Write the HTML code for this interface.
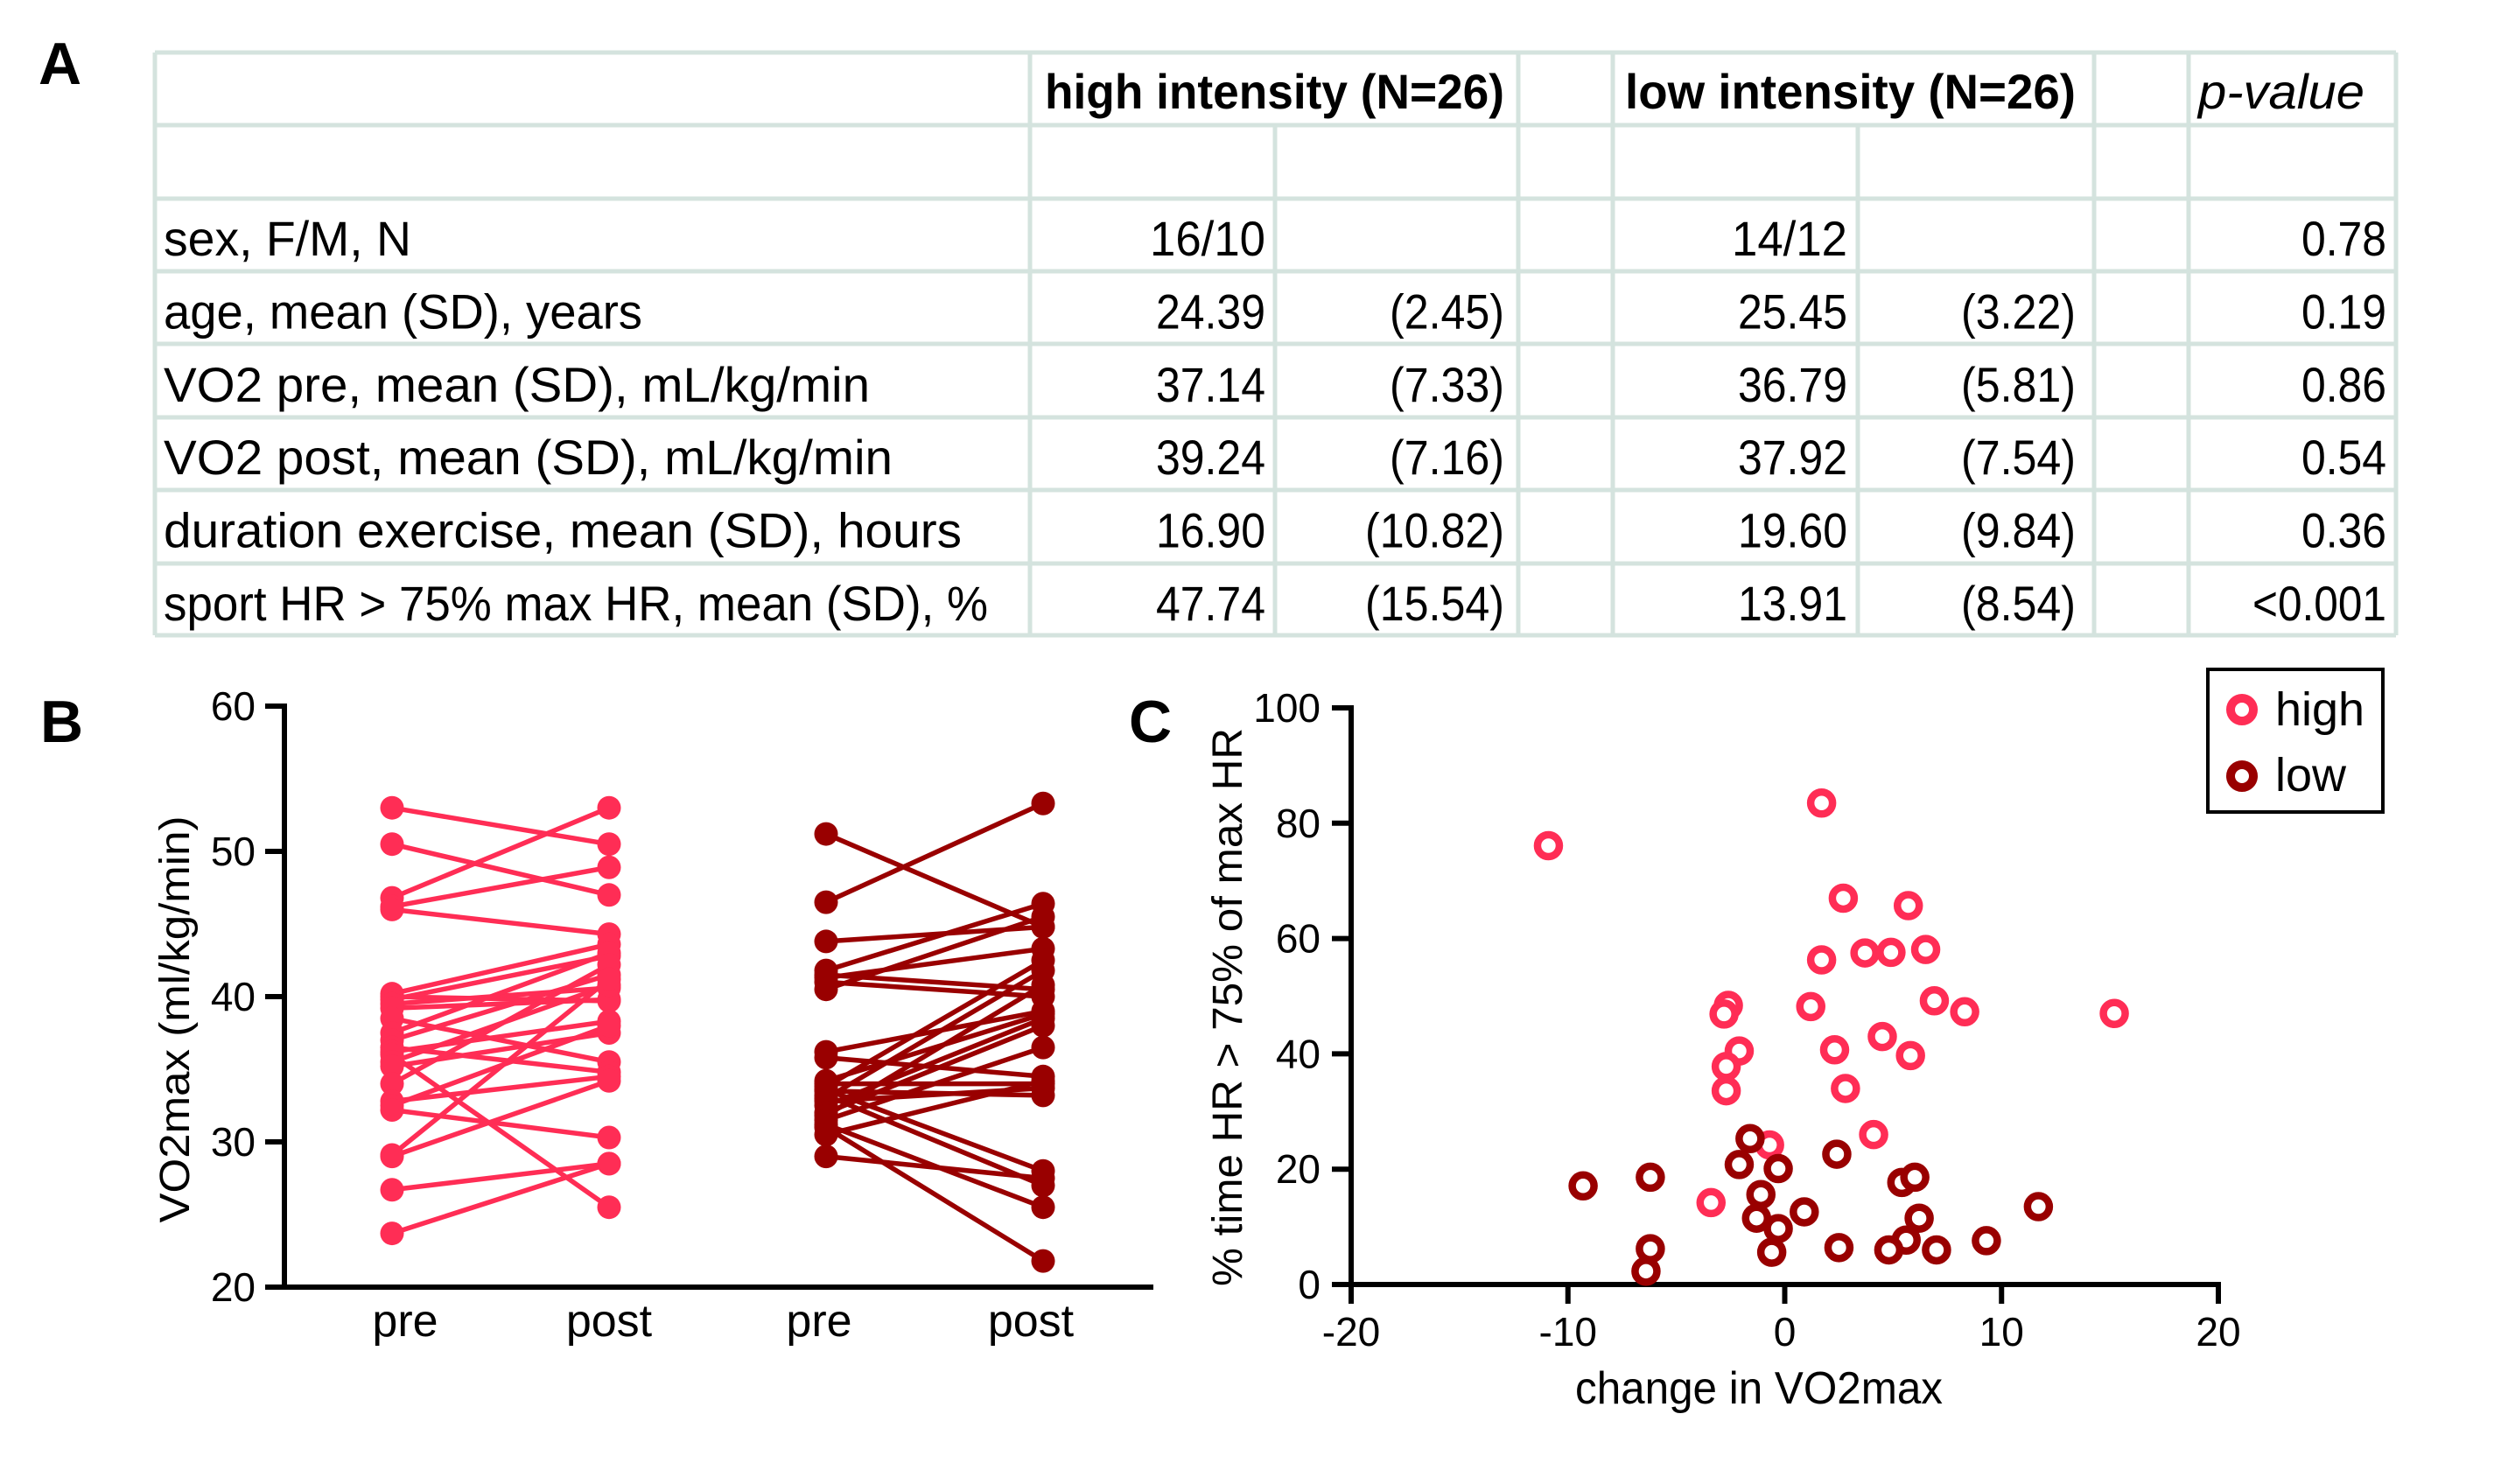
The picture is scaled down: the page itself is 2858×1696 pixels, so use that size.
<!DOCTYPE html>
<html><head><meta charset="utf-8"><style>
html,body{margin:0;padding:0;background:#fff;}
svg{display:block;}
text{font-family:"Liberation Sans Narrow","Liberation Sans",sans-serif;fill:#000;}
.wide{font-family:"Liberation Sans",sans-serif;}
</style></head><body>
<svg id="fig" width="2858" height="1696" viewBox="0 0 2858 1696" xmlns="http://www.w3.org/2000/svg">
<text x="44" y="96" font-size="68" font-weight="bold">A</text>
<text x="46" y="848" font-size="68" font-weight="bold">B</text>
<text x="1290" y="848" font-size="68" font-weight="bold">C</text>
<g id="table"></g>
<g id="chartB"></g>
<g id="chartC"></g>
</svg>
<script>
// ---- Table data ----
const rowLabels = ["sex, F/M, N","age, mean (SD), years","VO2 pre, mean (SD), mL/kg/min","VO2 post, mean (SD), mL/kg/min","duration exercise, mean (SD), hours","sport HR > 75% max HR, mean (SD), %"];
const highVals = ["16/10","24.39","37.14","39.24","16.90","47.74"];
const highSD = ["","(2.45)","(7.33)","(7.16)","(10.82)","(15.54)"];
const lowVals = ["14/12","25.45","36.79","37.92","19.60","13.91"];
const lowSD = ["","(3.22)","(5.81)","(7.54)","(9.84)","(8.54)"];
const pVals = ["0.78","0.19","0.86","0.54","0.36","<0.001"];

// ---- Chart B data ----
const bTicks = [20,30,40,50,60];
const bCategories = ["pre","post","pre","post"];
const highPre  = [53.0,50.5,46.8,46.2,46.0,40.2,40.0,39.8,39.5,39.2,38.5,37.5,37.0,36.5,36.2,36.0,35.5,35.2,34.0,32.8,32.5,32.2,29.1,29.0,26.7,23.7];
const highPost = [50.5,47.0,53.0,48.9,44.3,43.6,39.7,42.8,40.6,39.8,35.5,43.0,41.5,34.8,38.3,25.5,40.8,37.5,42.2,34.5,38.0,30.3,41.2,34.2,28.5,28.5];
const lowPre  = [51.2,46.5,43.8,41.8,41.5,41.3,41.0,40.5,36.2,35.8,34.0,33.8,33.5,33.2,33.0,32.8,32.5,32.0,31.8,31.5,31.2,31.0,29.0,30.5,33.6,34.2];
const lowPost = [44.8,53.3,44.8,46.4,40.5,43.3,40.0,45.5,39.0,34.5,34.0,42.5,33.2,27.0,41.8,33.7,38.5,38.0,40.8,36.5,25.5,21.8,27.5,34.2,28.0,38.8];

// ---- Chart C data ----
const cXTicks = [-20,-10,0,10,20];
const cYTicks = [0,20,40,60,80,100];
const highX = [-10.9,1.7,2.7,5.7,1.7,3.7,4.9,6.5,1.2,-2.6,-2.8,6.9,8.3,15.2,4.5,5.8,2.3,-2.1,-2.7,-2.7,2.8,4.1,-0.7,-3.4];
const highY = [76.1,83.5,67.0,65.7,56.3,57.5,57.6,58.1,48.2,48.4,46.9,49.2,47.3,47.0,43.0,39.7,40.7,40.5,37.8,33.6,34.0,26.0,24.2,14.2];
const lowX = [-9.3,-6.2,-6.2,-6.4,-1.6,-2.1,-0.3,-1.1,-1.3,-0.3,-0.6,0.9,2.4,2.5,5.4,6.0,6.2,5.6,4.8,7.0,9.3,11.7];
const lowY = [17.1,18.6,6.2,2.3,25.3,20.8,20.1,15.6,11.5,9.7,5.6,12.6,22.6,6.4,17.7,18.6,11.5,7.7,6.0,6.0,7.6,13.5];

const NS = "http://www.w3.org/2000/svg";
const HIGH = "#ff2d55", LOW = "#990000";
function mk(parent, tag, attrs, txt){
  const e = document.createElementNS(NS, tag);
  for (const k in attrs) e.setAttribute(k, attrs[k]);
  if (txt !== undefined) e.textContent = txt;
  parent.appendChild(e);
  return e;
}
function numW(s){let w=0;for(const c of s){if(/[0-9]/.test(c))w+=28;else if(c==='.')w+=13;else if(c==='/')w+=20;else if(c==='('||c===')')w+=17;else if(c==='<')w+=28;else w+=26;}return w;}

// ---- Table ----
(function(){
  const g = document.getElementById('table');
  const hl = [60,143,227,310,393,477,560,644,726];
  const L = 177, R = 2738;
  const border = "#d4e3de";
  hl.forEach((y,i)=>{
    const l = mk(g,'line',{x1:L,x2:R,y1:y,y2:y,stroke:border,'stroke-width':5});
    
    
  });
  const fullV = [177,1177,1735,1843,2393,2501,2738];
  fullV.forEach(x=>{
    const l = mk(g,'line',{x1:x,x2:x,y1:60,y2:726,stroke:border,'stroke-width':5});
    
    
  });
  [1457,2123].forEach(x=>{
    const l = mk(g,'line',{x1:x,x2:x,y1:143,y2:726,stroke:border,'stroke-width':5});
    
    
  });
  let t = mk(g,'text',{x:1194,y:124,'font-size':56,'font-weight':'bold',textLength:525,lengthAdjust:'spacingAndGlyphs'},"high intensity (N=26)");
  
  
  t = mk(g,'text',{x:1857,y:124,'font-size':56,'font-weight':'bold',textLength:515,lengthAdjust:'spacingAndGlyphs'},"low intensity (N=26)");
  
  
  t = mk(g,'text',{x:2512,y:124,'font-size':56,'font-style':'italic',textLength:190,lengthAdjust:'spacingAndGlyphs'},"p-value");
  
  
  const labelW = [283,547,807,833,912,942];
  rowLabels.forEach((lab,i)=>{
    const y = 227 + i*83.4 + 65;
    let e = mk(g,'text',{x:187,y:y,'font-size':56,textLength:labelW[i],lengthAdjust:'spacingAndGlyphs'},lab);
    
    
    const cols = [[highVals[i],1446],[highSD[i],1719],[lowVals[i],2111],[lowSD[i],2372],[pVals[i],2727]];
    cols.forEach(([s,xr])=>{
      if(!s) return;
      const w = numW(s);
      const c = mk(g,'text',{x:xr-w,y:y,'font-size':56,textLength:w,lengthAdjust:'spacingAndGlyphs'},s);
      
      
    });
  });
})();

// ---- Chart B ----
(function(){
  const g = document.getElementById('chartB');
  const y0 = 1471, pxPerUnit = 16.6;
  const yB = v => y0 - (v-20)*pxPerUnit;
  const catX = [448,696,944,1192];
  const labelX = [463,696,936,1178];
  // axes
  let a = mk(g,'line',{x1:325,x2:325,y1:yB(60)-3,y2:y0+3,stroke:'#000','stroke-width':6});
  
  
  a = mk(g,'line',{x1:303,x2:1318,y1:y0,y2:y0,stroke:'#000','stroke-width':6});
  
  
  bTicks.forEach(v=>{
    const tk = mk(g,'line',{x1:303,x2:325,y1:yB(v),y2:yB(v),stroke:'#000','stroke-width':6});
    
    
    const tl = mk(g,'text',{x:292,y:yB(v)+16,'font-size':46,'text-anchor':'end'},String(v));
    
    
  });
  bCategories.forEach((c,i)=>{
    const tl = mk(g,'text',{x:labelX[i],y:1527,'font-size':52,'text-anchor':'middle'},c);
    
    
  });
  const tt = mk(g,'text',{x:0,y:0,'font-size':48,'class':'wide','text-anchor':'middle',textLength:465,lengthAdjust:'spacingAndGlyphs',transform:'translate(216,1165) rotate(-90)'},"VO2max (ml/kg/min)");
  
  
  function series(pre, post, xa, xb, col, nm){
    pre.forEach((v,i)=>{
      const ln = mk(g,'line',{x1:xa,y1:yB(v),x2:xb,y2:yB(post[i]),stroke:col,'stroke-width':5.5});
      
      
    });
    pre.forEach((v,i)=>{
      const c1 = mk(g,'circle',{cx:xa,cy:yB(v),r:13.5,fill:col});
      
      
      const c2 = mk(g,'circle',{cx:xb,cy:yB(post[i]),r:13.5,fill:col});
      
      
    });
  }
  series(highPre, highPost, catX[0], catX[1], HIGH, 'high');
  series(lowPre, lowPost, catX[2], catX[3], LOW, 'low');
})();

// ---- Chart C ----
(function(){
  const g = document.getElementById('chartC');
  const xL = 1544, xR = 2535, yT = 809, yBt = 1468;
  const xS = v => xL + (v+20)/40*(xR-xL);
  const yS = v => yBt - v/100*(yBt-yT);
  let a = mk(g,'line',{x1:xL,x2:xL,y1:yT-3,y2:yBt+22,stroke:'#000','stroke-width':6});
  
  
  a = mk(g,'line',{x1:xL-22,x2:xR+3,y1:yBt,y2:yBt,stroke:'#000','stroke-width':6});
  
  
  cYTicks.forEach(v=>{
    const tk = mk(g,'line',{x1:xL-22,x2:xL,y1:yS(v),y2:yS(v),stroke:'#000','stroke-width':6});
    
    
    const tl = mk(g,'text',{x:1509,y:yS(v)+16,'font-size':46,'text-anchor':'end'},String(v));
    
    
  });
  cXTicks.forEach(v=>{
    const tk = mk(g,'line',{x1:xS(v),x2:xS(v),y1:yBt,y2:yBt+22,stroke:'#000','stroke-width':6});
    
    
    const tl = mk(g,'text',{x:xS(v),y:1538,'font-size':46,'text-anchor':'middle'},String(v));
    
    
  });
  const xt = mk(g,'text',{x:2010,y:1604,'font-size':52,'text-anchor':'middle',textLength:420,lengthAdjust:'spacingAndGlyphs'},"change in VO2max");
  
  
  const yt = mk(g,'text',{x:0,y:0,'font-size':48,'class':'wide','text-anchor':'middle',textLength:638,lengthAdjust:'spacingAndGlyphs',transform:'translate(1419,1151) rotate(-90)'},"% time HR > 75% of max HR");
  
  
  highX.forEach((v,i)=>{
    const c = mk(g,'circle',{cx:xS(v),cy:yS(highY[i]),r:12.5,fill:'#fff',stroke:HIGH,'stroke-width':8.5});
    
    
  });
  lowX.forEach((v,i)=>{
    const c = mk(g,'circle',{cx:xS(v),cy:yS(lowY[i]),r:12.5,fill:'#fff',stroke:LOW,'stroke-width':8.5});
    
    
  });
  // legend
  const lg = mk(g,'g',{});
  
  
  const box = mk(lg,'rect',{x:2523,y:765,width:200,height:163,fill:'#fff',stroke:'#000','stroke-width':4});
  
  
  const e1 = mk(lg,'circle',{cx:2562,cy:811,r:13,fill:'#fff',stroke:HIGH,'stroke-width':10});
  
  
  const e2 = mk(lg,'circle',{cx:2562,cy:887,r:13,fill:'#fff',stroke:LOW,'stroke-width':10});
  
  
  const t1 = mk(lg,'text',{x:2600,y:829,'font-size':54,'class':'wide'},"high");
  
  
  const t2 = mk(lg,'text',{x:2600,y:904,'font-size':54,'class':'wide'},"low");
  
  
})();
</script>
</body></html>
